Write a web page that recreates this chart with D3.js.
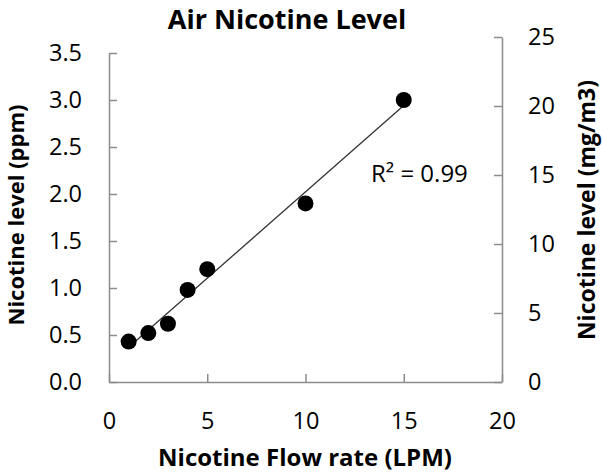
<!DOCTYPE html>
<html>
<head>
<meta charset="utf-8">
<script src="https://cdn.jsdelivr.net/npm/d3@7"></script>
<style>
    html, body { margin: 0; padding: 0; background: #fff; }
    svg { display: block; font-family: "Open Sans", sans-serif; }
</style>
</head>
<body>
<svg id="viz"></svg>
<script>

// ---------------------------
// Data
// ---------------------------

const flowRate = [1, 2, 3, 4, 5, 10, 15];
const nicotinePpm = [0.43, 0.52, 0.62, 0.98, 1.20, 1.90, 3.00];

const xTicks = [0, 5, 10, 15, 20];
const leftTicks = [0, 0.5, 1.0, 1.5, 2.0, 2.5, 3.0, 3.5];
const rightTicks = [0, 5, 10, 15, 20, 25];

const rSquaredLabel = "R² = 0.99";

// ---------------------------
// Create SVG
// ---------------------------

const svg = d3.select("#viz");

const width = 602;
const height = 474;

svg
    .attr("width", width)
    .attr("height", height)
    .attr("viewBox", `0 0 ${width} ${height}`);

const axisColor = "#8c8c8c";

const x = d3.scaleLinear().domain([0, 20]).range([109, 502]);
const yLeft = d3.scaleLinear().domain([0, 3.5]).range([382, 53]);
const yRight = d3.scaleLinear().domain([0, 25]).range([382, 37]);

// ---------------------------
// Axes
// ---------------------------

const xAxis = svg.append("g")
    .attr("transform", `translate(0,${yLeft(0)})`)
    .call(d3.axisBottom(x).tickValues(xTicks).tickSizeInner(-8).tickSizeOuter(0).tickPadding(30));

const leftAxis = svg.append("g")
    .attr("transform", `translate(${x(0)},0)`)
    .call(d3.axisLeft(yLeft).tickValues(leftTicks).tickFormat(d3.format(".1f"))
        .tickSizeInner(-8).tickSizeOuter(0).tickPadding(27));

const rightAxis = svg.append("g")
    .attr("transform", `translate(${x(20)},0)`)
    .call(d3.axisRight(yRight).tickValues(rightTicks)
        .tickSizeInner(-8).tickSizeOuter(0).tickPadding(26));

[xAxis, leftAxis, rightAxis].forEach(g => {
    g.select(".domain").attr("stroke", axisColor).attr("stroke-width", 1.5);
    g.selectAll(".tick line").attr("stroke", axisColor).attr("stroke-width", 1.5);
    g.selectAll(".tick text")
        .attr("fill", "#000")
        .style("font-size", "23.5px")
        .style("font-family", "'Open Sans', sans-serif");
});

// ---------------------------
// Trend line (least squares)
// ---------------------------

const mx = d3.mean(flowRate);
const my = d3.mean(nicotinePpm);
const slope = d3.sum(flowRate, (d, i) => (d - mx) * (nicotinePpm[i] - my)) /
    d3.sum(flowRate, d => (d - mx) * (d - mx));
const intercept = my - slope * mx;

const x0 = d3.min(flowRate);
const x1 = d3.max(flowRate);

svg.append("line")
    .attr("x1", x(x0))
    .attr("y1", yLeft(intercept + slope * x0))
    .attr("x2", x(x1))
    .attr("y2", yLeft(intercept + slope * x1))
    .attr("stroke", "#333")
    .attr("stroke-width", 1.3);

// ---------------------------
// Points
// ---------------------------

svg.append("g")
    .selectAll("circle")
    .data(flowRate)
    .join("circle")
    .attr("cx", d => x(d))
    .attr("cy", (d, i) => yLeft(nicotinePpm[i]))
    .attr("r", 8)
    .attr("fill", "#000");

// ---------------------------
// Labels
// ---------------------------

svg.append("text")
    .attr("x", 287)
    .attr("y", 29)
    .attr("text-anchor", "middle")
    .style("font-size", "27px")
    .style("font-weight", "bold")
    .text("Air Nicotine Level");

svg.append("text")
    .attr("x", 305)
    .attr("y", 466)
    .attr("text-anchor", "middle")
    .style("font-size", "24px")
    .style("font-weight", "bold")
    .text("Nicotine Flow rate (LPM)");

svg.append("text")
    .attr("transform", "translate(24,215) rotate(-90)")
    .attr("text-anchor", "middle")
    .style("font-size", "22px")
    .style("font-weight", "bold")
    .text("Nicotine level (ppm)");

svg.append("text")
    .attr("transform", "translate(595,210) rotate(-90)")
    .attr("text-anchor", "middle")
    .style("font-size", "23px")
    .style("font-weight", "bold")
    .text("Nicotine level (mg/m3)");

svg.append("text")
    .attr("x", 371)
    .attr("y", 182)
    .style("font-size", "24px")
    .text(rSquaredLabel);

</script>
</body>
</html>
